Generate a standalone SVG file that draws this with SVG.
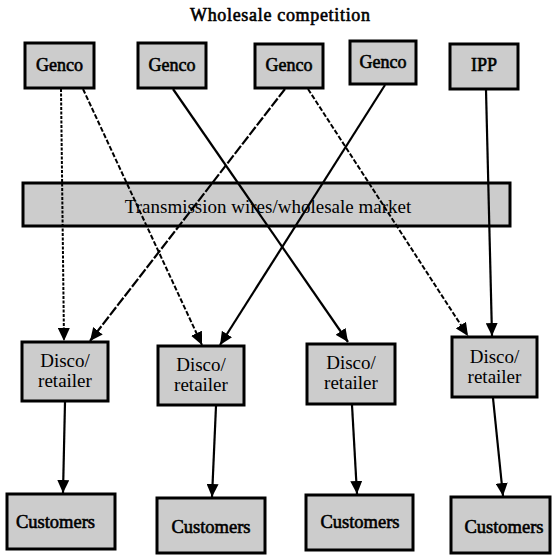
<svg xmlns="http://www.w3.org/2000/svg" width="553" height="556" viewBox="0 0 553 556">
<style>
.box{fill:#cccccc;stroke:#000;stroke-width:3}
.t{font-family:"Liberation Serif","Times New Roman",serif;fill:#000;text-anchor:middle}
.b{stroke:#000;stroke-width:0.6}
.c{stroke:#000;stroke-width:2.2;fill:none;marker-end:url(#ah)}
.d1{stroke-dasharray:3,1.5;stroke-width:2}
.d2{stroke-dasharray:5,2;stroke-width:2}
.d3{stroke-dasharray:10,2}
</style>
<defs>
<marker id="ah" markerUnits="userSpaceOnUse" markerWidth="14" markerHeight="12" viewBox="0 0 14 12" refX="13" refY="6" orient="auto">
<path d="M0,0 L13,6 L0,12 z" fill="#000"/>
</marker>
</defs>
<rect width="553" height="556" fill="#fff"/>
<text class="t b" x="280" y="21" font-size="18" textLength="180" lengthAdjust="spacing">Wholesale competition</text>

<g id="genco1"><rect class="box" x="25" y="43" width="69" height="45"/><text class="t b" x="59.5" y="71" font-size="18">Genco</text></g>
<g id="genco2"><rect class="box" x="138" y="43" width="68" height="45"/><text class="t b" x="172" y="71" font-size="18">Genco</text></g>
<g id="genco3"><rect class="box" x="255" y="44" width="68" height="44"/><text class="t b" x="289" y="71" font-size="18">Genco</text></g>
<g id="genco4"><rect class="box" x="350" y="41" width="66" height="43"/><text class="t b" x="383" y="68" font-size="18">Genco</text></g>
<g id="ipp"><rect class="box" x="450" y="44" width="68" height="45"/><text class="t b" x="484" y="71" font-size="18">IPP</text></g>

<g id="transmission"><rect class="box" x="23" y="183" width="487" height="43"/><text class="t" x="268" y="213" font-size="19">Transmission wires/wholesale market</text></g>

<g id="disco1"><rect class="box" x="22" y="342" width="86" height="59"/><text class="t" x="65" y="367" font-size="19">Disco/</text><text class="t" x="65" y="387" font-size="19">retailer</text></g>
<g id="disco2"><rect class="box" x="158" y="346" width="86" height="59"/><text class="t" x="201" y="371" font-size="19">Disco/</text><text class="t" x="201" y="391" font-size="19">retailer</text></g>
<g id="disco3"><rect class="box" x="307" y="344" width="88" height="60"/><text class="t" x="351" y="369" font-size="19">Disco/</text><text class="t" x="351" y="389" font-size="19">retailer</text></g>
<g id="disco4"><rect class="box" x="452" y="337" width="85" height="60"/><text class="t" x="494.5" y="363" font-size="19">Disco/</text><text class="t" x="494.5" y="383" font-size="19">retailer</text></g>

<g id="customers1"><rect class="box" x="7" y="494" width="108" height="55"/><text class="t b" x="55.5" y="528" font-size="18.5">Customers</text></g>
<g id="customers2"><rect class="box" x="157" y="498" width="108" height="55"/><text class="t b" x="211" y="533" font-size="18.5">Customers</text></g>
<g id="customers3"><rect class="box" x="306" y="495" width="107" height="55"/><text class="t b" x="360" y="528" font-size="18.5">Customers</text></g>
<g id="customers4"><rect class="box" x="451" y="497" width="99" height="56"/><text class="t b" x="504" y="533" font-size="18.5">Customers</text></g>

<g id="connectors">
<line class="c d1" x1="61" y1="89" x2="64" y2="341"/>
<line class="c d2" x1="83" y1="89" x2="202" y2="345"/>
<line class="c" x1="173" y1="89" x2="348" y2="342"/>
<line class="c d3" x1="285" y1="89" x2="90" y2="341"/>
<line class="c d2" x1="308" y1="89" x2="468" y2="336"/>
<line class="c" x1="385" y1="85" x2="220" y2="345"/>
<line class="c" x1="486" y1="90" x2="492" y2="336"/>
<line class="c" x1="65" y1="402" x2="63" y2="493"/>
<line class="c" x1="216" y1="406" x2="212" y2="497"/>
<line class="c" x1="352" y1="405" x2="357" y2="494"/>
<line class="c" x1="493" y1="398" x2="503" y2="496"/>
</g>
</svg>
